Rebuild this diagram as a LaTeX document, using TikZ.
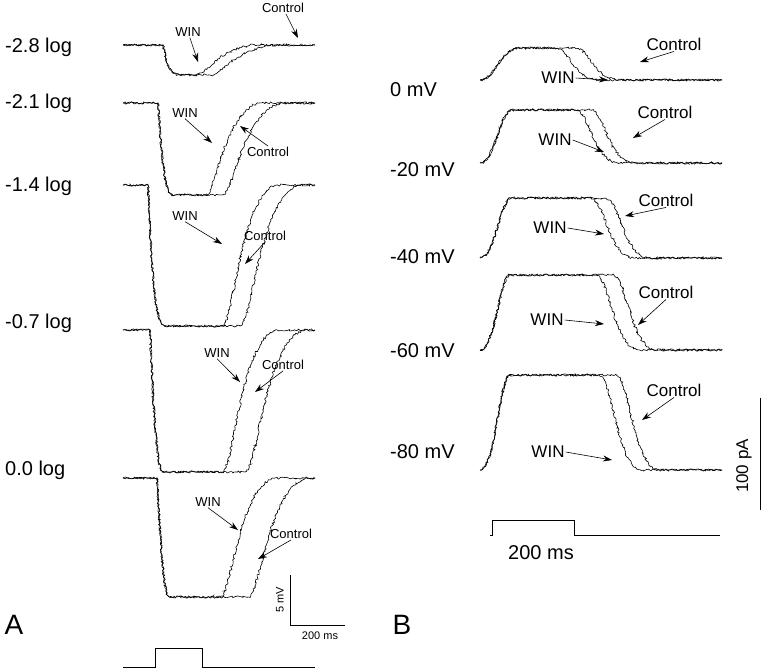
\documentclass[tikz,border=0pt]{standalone}
\usepackage{fontspec}
\setmainfont{Liberation Sans}
\usetikzlibrary{positioning,decorations.pathmorphing,arrows.meta}
\begin{document}
\begin{tikzpicture}[x=1pt,y=-1pt,
  trace/.style={line width=0.6pt, decorate, decoration={random steps, segment length=1.5pt, amplitude=1.1pt}},
  rowlabel/.style={font=\fontsize{20}{20}\selectfont, anchor=west, inner sep=0pt},
  note/.style={font=\fontsize{13}{13}\selectfont, inner sep=1pt},
  bnote/.style={font=\fontsize{17}{17}\selectfont, inner sep=1pt},
  pointer/.style={-{Stealth[length=9pt,width=6pt]}, line width=0.6pt},
  panel/.style={font=\fontsize{28}{28}\selectfont, inner sep=0pt}
  ]
  \useasboundingbox (0,0) rectangle (762,670);
  % panel A: base, depth, onset, bottom reached, WIN recovery, Control recovery
  \foreach \b/\d/\o/\t/\w/\c in {45/75/163/185/195/210, 103/195/158/175/205/222, 185/326/148/170/222/240, 330/472/150/165/222/245, 478/597/157/170/220/248}{
    \draw[trace] (123,\b) -- (\o,\b) .. controls (\o+6,\d) and (\o+10,\d) .. (\t,\d) -- (\w,\d) .. controls (\w+12,\d) and (\w+18,\b+8) .. (\w+55,\b) -- (315,\b);
    \draw[trace] (123,\b) -- (\o,\b) .. controls (\o+6,\d) and (\o+10,\d) .. (\t,\d) -- (\c,\d) .. controls (\c+12,\d) and (\c+20,\b+8) .. (\c+60,\b) -- (315,\b);
  }
  \node[rowlabel] (a1) at (5,47) {-2.8 log};
  \node[rowlabel] (a2) at (5,103) {-2.1 log};
  \node[rowlabel] (a3) at (5,186) {-1.4 log};
  \node[rowlabel] (a4) at (5,323) {-0.7 log};
  \node[rowlabel] (a5) at (5,470) {0.0 log};
  % arrows of panel A
  \node[note] (w1) at (188,32) {WIN};
  \coordinate (w1t) at (198,62);
  \draw[pointer] (w1) -- (w1t);
  \node[note] (c1) at (283,8) {Control};
  \coordinate (c1t) at (298,38);
  \draw[pointer] (c1) -- (c1t);
  \node[note] (w2) at (185,113) {WIN};
  \coordinate (w2t) at (212,143);
  \draw[pointer] (w2.south) -- (w2t);
  \node[note] (c2) at (268,152) {Control};
  \coordinate (c2t) at (240,126);
  \draw[pointer] (c2.north) -- (c2t);
  \node[note] (w3) at (185,216) {WIN};
  \coordinate (w3t) at (222,244);
  \draw[pointer] (w3.south) -- (w3t);
  \node[note] (c3) at (265,236) {Control};
  \coordinate (c3t) at (245,264);
  \draw[pointer] (c3.south) -- (c3t);
  \node[note] (w4) at (217,353) {WIN};
  \coordinate (w4t) at (240,382);
  \draw[pointer] (w4.south) -- (w4t);
  \node[note] (c4) at (283,365) {Control};
  \coordinate (c4t) at (255,392);
  \draw[pointer] (c4.south) -- (c4t);
  \node[note] (w5) at (208,502) {WIN};
  \coordinate (w5t) at (238,530);
  \draw[pointer] (w5.south) -- (w5t);
  \node[note] (c5) at (291,534) {Control};
  \coordinate (c5t) at (258,559);
  \draw[pointer] (c5.south) -- (c5t);
  % stimulus and scale A
  \draw[line width=0.6pt] (123,667) -- (155,667) -- (155,648) -- (202,648) -- (202,667) -- (315,667);
  \coordinate (sa) at (290,575);
  \coordinate (sb) at (290,625);
  \coordinate (sc) at (345,625);
  \draw[line width=0.6pt] (sa) -- (sb) -- (sc);
  \node[note, rotate=90, font=\fontsize{11}{11}\selectfont] (sav) at (280,600) {5 mV};
  \node[note, font=\fontsize{11}{11}\selectfont] (sah) at (320,636) {200 ms};
  \node[panel] (pa) at (14,625) {A};
  % panel B: base, peak, rise end, WIN fall, Control fall
  \foreach \b/\p/\r/\w/\c in {80/48/520/555/575, 163/110/512/575/590, 258/198/512/590/605, 350/275/510/595/612, 470/375/510/598/615}{
    \draw[trace] (480,\b) .. controls (495,\b) and (500,\p) .. (\r,\p) -- (\w,\p) .. controls (\w+15,\p) and (\w+18,\b) .. (\w+45,\b) -- (722,\b);
    \draw[trace] (480,\b) .. controls (495,\b) and (500,\p) .. (\r,\p) -- (\c,\p) .. controls (\c+15,\p) and (\c+18,\b) .. (\c+45,\b) -- (722,\b);
  }
  \node[rowlabel] (b1) at (390,90) {0 mV};
  \node[rowlabel] (b2) at (390,170) {-20 mV};
  \node[rowlabel] (b3) at (390,257) {-40 mV};
  \node[rowlabel] (b4) at (390,351) {-60 mV};
  \node[rowlabel] (b5) at (390,452) {-80 mV};
  \foreach \i/\wy/\cy/\wx/\cx in {1/78/44/558/674, 2/140/112/555/665, 3/228/200/550/666, 4/320/292/547/666, 5/452/390/548/674}{
    \node[bnote] (bw\i) at (\wx,\wy) {WIN};
    \node[bnote] (bc\i) at (\cx,\cy) {Control};
  }
  \coordinate (bw1t) at (608,80);
  \coordinate (bc1t) at (640,62);
  \coordinate (bw2t) at (604,152);
  \coordinate (bc2t) at (633,138);
  \coordinate (bw3t) at (604,234);
  \coordinate (bc3t) at (625,216);
  \coordinate (bw4t) at (604,324);
  \coordinate (bc4t) at (638,325);
  \coordinate (bw5t) at (612,460);
  \coordinate (bc5t) at (642,420);
  \foreach \i in {1,...,5}{
    \draw[pointer] (bw\i.east) -- (bw\i t);
    \draw[pointer] (bc\i.south) -- (bc\i t);
  }
  % stimulus and scale B
  \draw[line width=0.6pt] (490,535) -- (492,535) -- (492,520) -- (574,520) -- (574,535) -- (720,535);
  \node[bnote, font=\fontsize{20}{20}\selectfont] (sbh) at (541,553) {200 ms};
  \coordinate (sd) at (760,398);
  \coordinate (se) at (760,510);
  \draw[line width=0.6pt] (sd) -- (se);
  \node[bnote, rotate=90] (sbv) at (744,466) {100 pA};
  \node[panel] (pb) at (402,625) {B};
\end{tikzpicture}
\end{document}
